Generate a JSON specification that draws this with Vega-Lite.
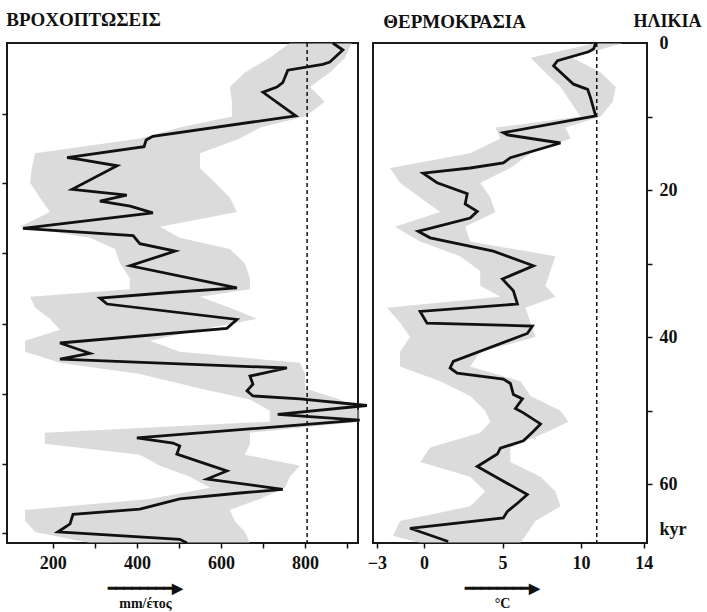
{
  "$schema": "https://vega.github.io/schema/vega-lite/v6.json",
  "background": "white",
  "padding": {"left": 0, "top": 10, "right": 0, "bottom": 2},
  "spacing": 15,
  "bounds": "flush",
  "config": {
    "view": {"stroke": "#1a1a1a", "strokeWidth": 2},
    "font": "Liberation Serif",
    "axis": {
      "labelFont": "Liberation Serif", "labelFontWeight": "bold", "labelFontSize": 18, "labelColor": "#111",
      "tickColor": "#111", "tickWidth": 1.5, "tickSize": 5, "domain": false, "grid": false,
      "titleFont": "Liberation Serif", "titleFontWeight": "bold", "titleColor": "#111"
    },
    "title": {"font": "Liberation Serif", "fontWeight": "bold", "fontSize": 19, "anchor": "start", "color": "#111"}
  },
  "datasets": {
    "precip": [
      {"age": 0, "mm": 866}, {"age": 0.95, "mm": 890}, {"age": 2.6, "mm": 859}, {"age": 2.9, "mm": 842},
      {"age": 3.7, "mm": 759}, {"age": 5.4, "mm": 747}, {"age": 6.0, "mm": 733}, {"age": 6.7, "mm": 700},
      {"age": 9.9, "mm": 778}, {"age": 12.7, "mm": 438}, {"age": 13.2, "mm": 422}, {"age": 14.1, "mm": 417},
      {"age": 15.6, "mm": 234}, {"age": 15.8, "mm": 260}, {"age": 16.7, "mm": 353}, {"age": 19.9, "mm": 246},
      {"age": 20.7, "mm": 376}, {"age": 21.5, "mm": 312}, {"age": 22.2, "mm": 384}, {"age": 23.1, "mm": 438},
      {"age": 25.2, "mm": 129}, {"age": 26.2, "mm": 391}, {"age": 27.3, "mm": 407}, {"age": 28.3, "mm": 491},
      {"age": 30.3, "mm": 384}, {"age": 33.3, "mm": 638}, {"age": 33.9, "mm": 486}, {"age": 34.7, "mm": 312},
      {"age": 35.5, "mm": 329}, {"age": 37.6, "mm": 638}, {"age": 38.8, "mm": 614}, {"age": 40.8, "mm": 217},
      {"age": 42.2, "mm": 288}, {"age": 43.0, "mm": 217}, {"age": 44.2, "mm": 757}, {"age": 45.3, "mm": 669},
      {"age": 46.4, "mm": 676}, {"age": 47.3, "mm": 662}, {"age": 48.0, "mm": 676}, {"age": 48.4, "mm": 788},
      {"age": 49.3, "mm": 947}, {"age": 50.5, "mm": 735}, {"age": 51.3, "mm": 930}, {"age": 53.7, "mm": 400},
      {"age": 54.4, "mm": 486}, {"age": 54.8, "mm": 502}, {"age": 55.9, "mm": 495}, {"age": 57.1, "mm": 557},
      {"age": 58.2, "mm": 614}, {"age": 59.3, "mm": 567}, {"age": 60.7, "mm": 747}, {"age": 61.2, "mm": 645},
      {"age": 62.0, "mm": 502}, {"age": 63.4, "mm": 407}, {"age": 64.1, "mm": 248}, {"age": 65.4, "mm": 241},
      {"age": 66.5, "mm": 212}, {"age": 67.5, "mm": 502}, {"age": 68.0, "mm": 519}
    ],
    "band_p": [
      {"age": 0, "lo": 764, "hi": 911}, {"age": 2, "lo": 716, "hi": 895}, {"age": 4, "lo": 657, "hi": 859},
      {"age": 6, "lo": 621, "hi": 812}, {"age": 8, "lo": 626, "hi": 847}, {"age": 10, "lo": 626, "hi": 800},
      {"age": 11.5, "lo": 502, "hi": 693}, {"age": 13, "lo": 407, "hi": 645}, {"age": 15, "lo": 158, "hi": 550},
      {"age": 17, "lo": 150, "hi": 550}, {"age": 19, "lo": 146, "hi": 586}, {"age": 21, "lo": 169, "hi": 621},
      {"age": 23, "lo": 193, "hi": 638}, {"age": 25, "lo": 122, "hi": 455}, {"age": 26.5, "lo": 288, "hi": 502},
      {"age": 28, "lo": 348, "hi": 621}, {"age": 30, "lo": 360, "hi": 657}, {"age": 32, "lo": 383, "hi": 669},
      {"age": 33.5, "lo": 383, "hi": 669}, {"age": 34.5, "lo": 146, "hi": 550}, {"age": 36, "lo": 158, "hi": 621},
      {"age": 37.5, "lo": 193, "hi": 686}, {"age": 39, "lo": 217, "hi": 550}, {"age": 40.5, "lo": 134, "hi": 431},
      {"age": 42, "lo": 134, "hi": 502}, {"age": 43.5, "lo": 217, "hi": 788}, {"age": 45, "lo": 407, "hi": 800},
      {"age": 47, "lo": 550, "hi": 800}, {"age": 48.5, "lo": 669, "hi": 883}, {"age": 50, "lo": 716, "hi": 930},
      {"age": 51.5, "lo": 716, "hi": 930}, {"age": 53, "lo": 181, "hi": 669}, {"age": 54.5, "lo": 181, "hi": 669},
      {"age": 56, "lo": 407, "hi": 657}, {"age": 57.5, "lo": 455, "hi": 788}, {"age": 59, "lo": 526, "hi": 764},
      {"age": 60.5, "lo": 574, "hi": 752}, {"age": 62, "lo": 431, "hi": 693}, {"age": 63.5, "lo": 134, "hi": 621},
      {"age": 65, "lo": 134, "hi": 633}, {"age": 66.5, "lo": 158, "hi": 657}, {"age": 68, "lo": 288, "hi": 669}
    ],
    "temp": [
      {"age": 0, "t": 10.93}, {"age": 0.8, "t": 10.8}, {"age": 1.2, "t": 10.48}, {"age": 2.4, "t": 8.5},
      {"age": 3.1, "t": 8.25}, {"age": 5.6, "t": 9.52}, {"age": 6.3, "t": 10.42}, {"age": 7.5, "t": 10.61},
      {"age": 9.9, "t": 10.93}, {"age": 12.2, "t": 5.05}, {"age": 12.5, "t": 5.31}, {"age": 13.6, "t": 8.69},
      {"age": 15.6, "t": 5.5}, {"age": 16.3, "t": 5.05}, {"age": 17.0, "t": 2.94}, {"age": 17.7, "t": -0.06},
      {"age": 19.0, "t": 0.83}, {"age": 20.5, "t": 2.75}, {"age": 21.9, "t": 2.62}, {"age": 22.9, "t": 3.39},
      {"age": 23.8, "t": 2.94}, {"age": 25.3, "t": 0.19}, {"age": 25.6, "t": -0.38}, {"age": 26.5, "t": 0.39},
      {"age": 28.3, "t": 4.41}, {"age": 30.3, "t": 6.97}, {"age": 32.1, "t": 4.99}, {"age": 33.7, "t": 5.69},
      {"age": 35.5, "t": 5.95}, {"age": 36.5, "t": -0.25}, {"age": 38.1, "t": 0.19}, {"age": 38.5, "t": 6.9},
      {"age": 39.5, "t": 6.58}, {"age": 43.3, "t": 1.86}, {"age": 44.2, "t": 1.66}, {"age": 44.9, "t": 2.11},
      {"age": 45.7, "t": 5.05}, {"age": 46.3, "t": 5.5}, {"age": 47.8, "t": 5.69}, {"age": 48.4, "t": 6.27},
      {"age": 49.7, "t": 5.82}, {"age": 50.3, "t": 6.33}, {"age": 51.8, "t": 7.42}, {"age": 52.8, "t": 6.97},
      {"age": 54.1, "t": 6.33}, {"age": 55.1, "t": 4.86}, {"age": 55.9, "t": 4.67}, {"age": 57.6, "t": 3.39},
      {"age": 59.9, "t": 5.31}, {"age": 61.4, "t": 6.58}, {"age": 62.6, "t": 5.95}, {"age": 63.7, "t": 5.31},
      {"age": 64.6, "t": 5.05}, {"age": 66.0, "t": -0.89}, {"age": 67.8, "t": 1.54}
    ],
    "band_t": [
      {"age": 0, "lo": 10.93, "hi": 12.65}, {"age": 2, "lo": 6.78, "hi": 9.46}, {"age": 4, "lo": 7.73, "hi": 11.25},
      {"age": 6, "lo": 8.69, "hi": 12.21}, {"age": 8, "lo": 9.33, "hi": 12.02}, {"age": 10, "lo": 9.97, "hi": 11.25},
      {"age": 11.5, "lo": 4.54, "hi": 9.01}, {"age": 13, "lo": 4.86, "hi": 9.33}, {"age": 15, "lo": 2.94, "hi": 6.78},
      {"age": 17, "lo": -2.17, "hi": 5.5}, {"age": 19, "lo": -1.53, "hi": 3.58}, {"age": 21, "lo": -0.25, "hi": 4.22},
      {"age": 23, "lo": 1.03, "hi": 4.54}, {"age": 25, "lo": -1.85, "hi": 2.62}, {"age": 27, "lo": -0.25, "hi": 2.94},
      {"age": 29, "lo": 2.3, "hi": 8.37}, {"age": 31, "lo": 3.58, "hi": 8.05}, {"age": 33, "lo": 3.58, "hi": 7.73},
      {"age": 34.5, "lo": 4.86, "hi": 8.37}, {"age": 36, "lo": -2.36, "hi": 6.46}, {"age": 38, "lo": -1.53, "hi": 6.78},
      {"age": 40, "lo": -0.89, "hi": 7.1}, {"age": 42, "lo": -1.53, "hi": 3.58}, {"age": 44, "lo": -1.53, "hi": 2.94},
      {"age": 46, "lo": 1.03, "hi": 6.14}, {"age": 48, "lo": 2.94, "hi": 6.78}, {"age": 50, "lo": 3.9, "hi": 8.69},
      {"age": 51.5, "lo": 4.22, "hi": 9.2}, {"age": 53, "lo": 3.58, "hi": 7.73}, {"age": 55, "lo": 0.39, "hi": 5.5},
      {"age": 57, "lo": -0.25, "hi": 5.5}, {"age": 59, "lo": 2.94, "hi": 7.42}, {"age": 61, "lo": 3.9, "hi": 8.37},
      {"age": 63, "lo": 2.94, "hi": 8.69}, {"age": 65, "lo": -1.53, "hi": 7.1}, {"age": 67, "lo": -1.98, "hi": 6.46},
      {"age": 68, "lo": -0.25, "hi": 6.14}
    ],
    "ref_p": [{"ref": 805, "age": 0, "age_end": 68}],
    "ref_t": [{"ref": 11, "age": 0, "age_end": 68}]
  },
  "hconcat": [
    {
      "width": 351,
      "height": 500,
      "title": {"text": "ΒΡΟΧΟΠΤΩΣΕΙΣ", "dx": 5, "offset": 7},
      "encoding": {
        "y": {
          "field": "age", "type": "quantitative",
          "scale": {"domain": [0, 68], "reverse": true, "nice": false, "zero": false},
          "axis": {"orient": "left", "values": [9.6, 19.1, 28.6, 38.2, 47.7, 57.2, 66.7], "labels": false, "title": null}
        }
      },
      "layer": [
        {
          "data": {"name": "band_p"},
          "mark": {"type": "area", "orient": "horizontal", "fill": "#bdbdbd", "fillOpacity": 0.55},
          "encoding": {
            "x": {
              "field": "lo", "type": "quantitative",
              "scale": {"domain": [91, 926], "nice": false, "zero": false},
              "axis": {
                "values": [200, 300, 400, 500, 600, 700, 800, 900],
                "labelExpr": "datum.value % 200 == 0 ? datum.label : ''",
                "labelPadding": 6,
                "title": ["━━━━━━━━▶", "mm/έτος"],
                "titleFontSize": 14, "titleX": 138, "titlePadding": 9, "titleLineHeight": 15
              }
            },
            "x2": {"field": "hi"}
          }
        },
        {
          "data": {"name": "ref_p"},
          "mark": {"type": "rule", "strokeDash": [4, 3], "strokeWidth": 1.5, "color": "#111"},
          "encoding": {"x": {"field": "ref", "type": "quantitative"}, "y2": {"field": "age_end"}}
        },
        {
          "data": {"name": "precip"},
          "mark": {"type": "line", "color": "#111", "strokeWidth": 2.8},
          "encoding": {"x": {"field": "mm", "type": "quantitative"}, "order": {"field": "age"}}
        }
      ]
    },
    {
      "width": 274,
      "height": 500,
      "title": {"text": "ΘΕΡΜΟΚΡΑΣΙΑ", "dx": 16, "offset": -20},
      "encoding": {
        "y": {
          "field": "age", "type": "quantitative",
          "scale": {"domain": [0, 68], "reverse": true, "nice": false, "zero": false},
          "axis": {
            "orient": "right",
            "values": [0, 10, 20, 30, 40, 50, 60, 66.2],
            "labelExpr": "datum.value == 66.2 ? 'kyr' : (datum.value % 20 == 0 ? datum.label : '')",
            "tickOpacity": {"condition": {"test": "datum.value == 66.2 || datum.value == 0", "value": 0}, "value": 1},
            "labelPadding": 7,
            "title": "ΗΛΙΚΙΑ", "titleAngle": 0, "titleAlign": "left", "titleBaseline": "alphabetic",
            "titleX": -14, "titleY": -17, "titleFontSize": 18
          }
        }
      },
      "layer": [
        {
          "data": {"name": "band_t"},
          "mark": {"type": "area", "orient": "horizontal", "fill": "#bdbdbd", "fillOpacity": 0.55},
          "encoding": {
            "x": {
              "field": "lo", "type": "quantitative",
              "scale": {"domain": [-3.25, 14.2], "nice": false, "zero": false},
              "axis": {
                "values": [-3, 0, 5, 10, 14],
                "labelPadding": 6,
                "title": ["━━━━━━━━▶", "°C"],
                "titleFontSize": 14, "titleX": 129, "titlePadding": 9, "titleLineHeight": 15
              }
            },
            "x2": {"field": "hi"}
          }
        },
        {
          "data": {"name": "ref_t"},
          "mark": {"type": "rule", "strokeDash": [4, 3], "strokeWidth": 1.5, "color": "#111"},
          "encoding": {"x": {"field": "ref", "type": "quantitative"}, "y2": {"field": "age_end"}}
        },
        {
          "data": {"name": "temp"},
          "mark": {"type": "line", "color": "#111", "strokeWidth": 2.8},
          "encoding": {"x": {"field": "t", "type": "quantitative"}, "order": {"field": "age"}}
        }
      ]
    }
  ]
}
